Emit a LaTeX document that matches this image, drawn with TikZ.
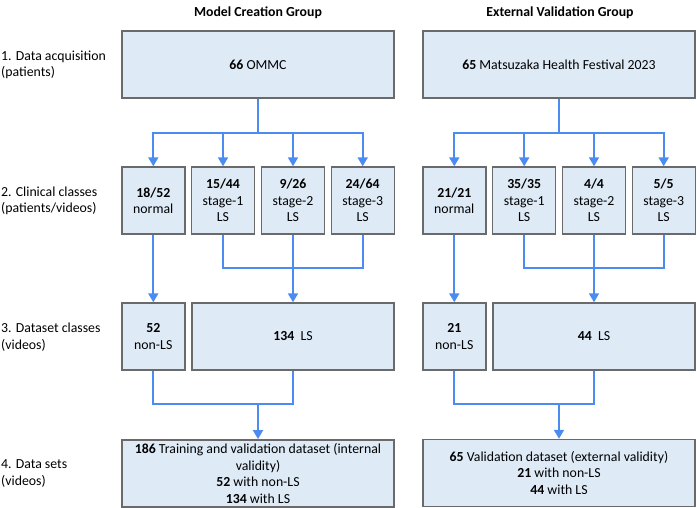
\documentclass[tikz,border=0pt]{standalone}
\usepackage{fontspec}
\setmainfont{Carlito}
\usetikzlibrary{arrows.meta}
\definecolor{boxfill}{HTML}{DEEBF7}
\definecolor{boxline}{HTML}{6A6A6A}
\definecolor{conn}{HTML}{4A8CF0}
\begin{document}
\begin{tikzpicture}[x=1pt,y=-1pt,
  every node/.style={font=\fontsize{13.8}{16.5}\selectfont},
  box/.style={draw=boxline,fill=boxfill,line width=1.4pt,align=center,inner sep=0pt,minimum height=67pt},
  wide/.style={box,minimum width=272pt},
  cls/.style={box,minimum width=63pt},
  lsbox/.style={box,minimum width=202pt},
  line/.style={draw=conn,line width=1.8pt},
  arr/.style={line,-{Triangle[width=10pt,length=9pt]}},
  title/.style={font=\fontsize{13.8}{16.5}\selectfont\bfseries},
  lab/.style={anchor=west,align=left,inner sep=0pt}
]
\useasboundingbox (0,0) rectangle (697,508);

% titles
\node[title] (t1) at (258,13) {Model Creation Group};
\node[title] (t2) at (560,13) {External Validation Group};

% row labels
\node[lab] (l1) at (1,65) {1. Data acquisition\\(patients)};
\node[lab] (l2) at (1,201) {2. Clinical classes\\(patients/videos)};
\node[lab] (l3) at (1,337) {3. Dataset classes\\(videos)};
\node[lab] (l4) at (1,473.5) {4. Data sets\\(videos)};

% ---------- left group ----------
\node[wide] (A1) at (258,64.5) {\textbf{66} OMMC};
\node[cls] (An) at (153.3,200.5) {\textbf{18/52}\\normal};
\node[cls] (As1) at (223,200.5) {\textbf{15/44}\\stage-1\\LS};
\node[cls] (As2) at (293,200.5) {\textbf{9/26}\\stage-2\\LS};
\node[cls] (As3) at (362.7,200.5) {\textbf{24/64}\\stage-3\\LS};
\node[cls] (Anon) at (153.3,336.5) {\textbf{52}\\non-LS};
\node[lsbox] (Als) at (293,336.5) {\textbf{134}\ \ LS};
\node[wide] (Ad) at (258,473.3) {\textbf{186} Training and validation dataset (internal\\validity)\\\textbf{52} with non-LS\\\textbf{134} with LS};

\coordinate (Abus) at (258,132.7);
\coordinate (Am2) at (293,267.7);
\coordinate (Am3) at (258,404.3);

\draw[line] (A1.south) -- (Abus);
\foreach \c in {An,As1,As2,As3} \draw[arr] (Abus) -| (\c.north);
\draw[line] (As1.south) |- (Am2);
\draw[line] (As3.south) |- (Am2);
\draw[arr] (As2.south) -- (Als.north);
\draw[arr] (An.south) -- (Anon.north);
\draw[line] (Anon.south) |- (Am3);
\draw[line] (Als.south) |- (Am3);
\draw[arr] (Am3) -- (Ad.north);

% ---------- right group ----------
\node[wide] (B1) at (559,64.5) {\textbf{65} Matsuzaka Health Festival 2023};
\node[cls] (Bn) at (454.3,200.5) {\textbf{21/21}\\normal};
\node[cls] (Bs1) at (524.2,200.5) {\textbf{35/35}\\stage-1\\LS};
\node[cls] (Bs2) at (594,200.5) {\textbf{4/4}\\stage-2\\LS};
\node[cls] (Bs3) at (663.7,200.5) {\textbf{5/5}\\stage-3\\LS};
\node[cls] (Bnon) at (454.3,336.5) {\textbf{21}\\non-LS};
\node[lsbox] (Bls) at (594,336.5) {\textbf{44}\ \ LS};
\node[wide] (Bd) at (559,473) {\textbf{65} Validation dataset (external validity)\\\textbf{21} with non-LS\\\textbf{44} with LS};

\coordinate (Bbus) at (559,132.7);
\coordinate (Bm2) at (594,267.7);
\coordinate (Bm3) at (559,404.3);

\draw[line] (B1.south) -- (Bbus);
\foreach \c in {Bn,Bs1,Bs2,Bs3} \draw[arr] (Bbus) -| (\c.north);
\draw[line] (Bs1.south) |- (Bm2);
\draw[line] (Bs3.south) |- (Bm2);
\draw[arr] (Bs2.south) -- (Bls.north);
\draw[arr] (Bn.south) -- (Bnon.north);
\draw[line] (Bnon.south) |- (Bm3);
\draw[line] (Bls.south) |- (Bm3);
\draw[arr] (Bm3) -- (Bd.north);
\end{tikzpicture}
\end{document}
